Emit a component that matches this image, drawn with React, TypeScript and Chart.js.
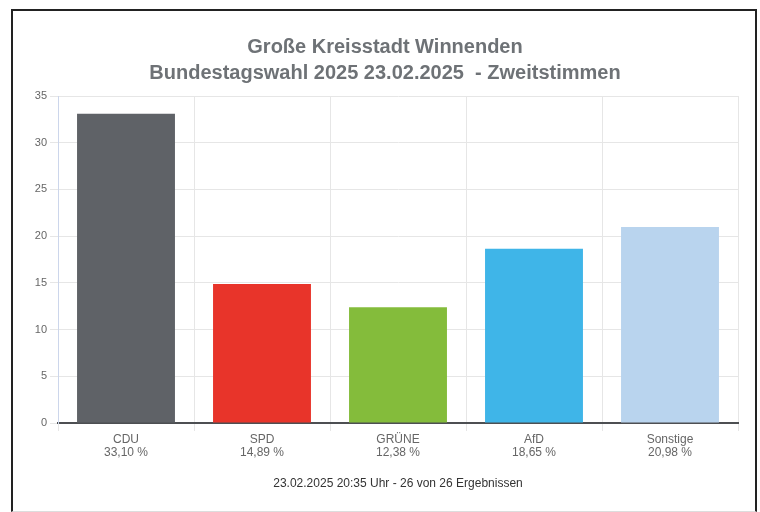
import React, { useEffect, useRef } from "react";
import { Chart, registerables } from "chart.js";

Chart.register(...registerables);

const titleLines = ["Große Kreisstadt Winnenden", "Bundestagswahl 2025 23.02.2025  - Zweitstimmen"];
const footerText = "23.02.2025 20:35 Uhr - 26 von 26 Ergebnissen";
const parties = ["CDU", "SPD", "GRÜNE", "AfD", "Sonstige"];
const shares = [33.1, 14.89, 12.38, 18.65, 20.98];
const barColors = ["#5f6267", "#e8342a", "#84bc3b", "#3fb5e8", "#b9d4ee"];
const yMax = 35;
const yStep = 5;

const FONT = 'Arial, "Liberation Sans", sans-serif';

export default function App() {
  const ref = useRef<HTMLCanvasElement | null>(null);

  useEffect(() => {
    if (!ref.current) return;
    const labels = parties.map((p, i) => [p, shares[i].toFixed(2).replace(".", ",") + " %"]);
    const chart = new Chart(ref.current, {
      type: "bar",
      data: {
        labels,
        datasets: [
          {
            data: shares,
            backgroundColor: barColors,
            borderWidth: 0,
            barPercentage: 0.9,
            categoryPercentage: 0.8,
          },
        ],
      },
      options: {
        responsive: false,
        animation: false,
        layout: { padding: { left: 32, right: 22, top: 0, bottom: 0 } },
        plugins: {
          legend: { display: false },
          tooltip: { enabled: false },
          title: {
            display: true,
            text: titleLines,
            color: "#6e7276",
            font: { family: FONT, size: 20, weight: "bold", lineHeight: 1.3 },
            padding: { top: 34, bottom: 10 },
          },
        },
        scales: {
          x: {
            grid: { color: "#e6e6e6", tickLength: 8, offset: true },
            border: { color: "#4d4f52", width: 2 },
            ticks: {
              color: "#666666",
              padding: 2,
              font: { family: FONT, size: 12, lineHeight: 1.1 },
            },
            title: {
              display: true,
              text: footerText,
              color: "#333333",
              font: { family: FONT, size: 12, lineHeight: 1.2 },
              padding: { top: 0, bottom: 21 },
            },
            afterFit: (s: any) => {
              s.height = 89;
            },
          },
          y: {
            min: 0,
            max: yMax,
            grid: { color: "#e6e6e6", tickLength: 8 },
            border: { color: "#ccd6eb", width: 1 },
            ticks: {
              stepSize: yStep,
              color: "#666666",
              padding: 3,
              font: { family: FONT, size: 11 },
            },
            afterFit: (s: any) => {
              s.width = 26;
            },
          },
        },
      },
    });
    return () => chart.destroy();
  }, []);

  return (
    <div style={{ position: "absolute", left: 0, top: 0, width: 760, height: 512, background: "#ffffff" }}>
      <div
        style={{
          position: "absolute",
          left: 11,
          top: 9,
          width: 746,
          height: 503,
          boxSizing: "border-box",
          borderLeft: "2px solid #222222",
          borderTop: "2px solid #222222",
          borderRight: "2px solid #222222",
          borderBottom: "1px solid #dddddd",
        }}
      />
      <canvas ref={ref} width={760} height={512} style={{ position: "absolute", left: 0, top: 0, width: 760, height: 512 }} />
    </div>
  );
}
